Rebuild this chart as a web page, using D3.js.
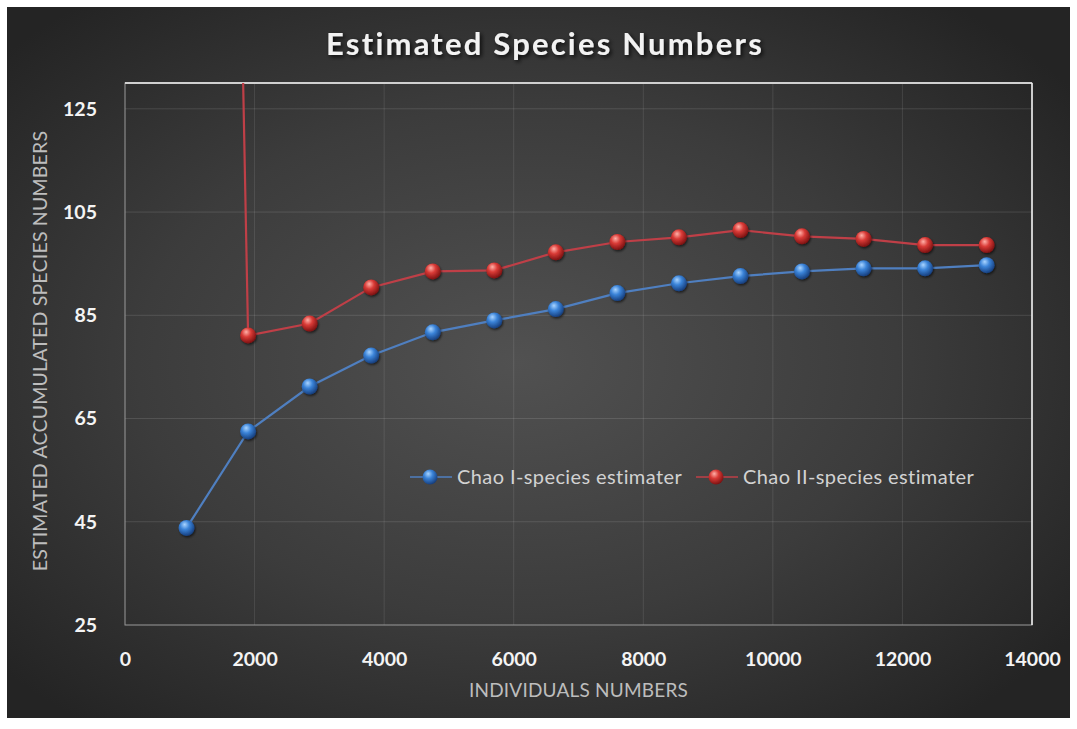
<!DOCTYPE html>
<html>
<head>
<meta charset="utf-8">
<script src="https://cdn.jsdelivr.net/npm/d3@7/dist/d3.min.js"></script>
<style>
  html, body { margin: 0; padding: 0; background: #ffffff; }
  svg { display: block; }
  text { font-family: Lato, "Open Sans", sans-serif; }
</style>
</head>
<body>
<div id="chart"></div>
<script>
// Sample sizes (individuals) at each accumulation step
const individuals = [950, 1900, 2850, 3800, 4750, 5700, 6650, 7600, 8550, 9500, 10450, 11400, 12350, 13300];
// Chao I estimator
const chao1 = [43.8, 62.5, 71.2, 77.2, 81.7, 84.0, 86.2, 89.3, 91.2, 92.6, 93.5, 94.1, 94.1, 94.7];
// Chao II estimator (first step runs far above the axis range)
const chao2 = [690, 81.1, 83.4, 90.4, 93.5, 93.7, 97.2, 99.2, 100.1, 101.5, 100.3, 99.8, 98.6, 98.6];
const seriesNames = ["Chao I-species estimater", "Chao II-species estimater"];
const xTicks = [0, 2000, 4000, 6000, 8000, 10000, 12000, 14000];
const yTicks = [25, 45, 65, 85, 105, 125];

const W = 1077, H = 729;
const svg = d3.select("#chart").append("svg").attr("width", W).attr("height", H);
const defs = svg.append("defs");

// dark radial backdrop
const bg = defs.append("radialGradient").attr("id", "bg")
  .attr("cx", "48%").attr("cy", "50%").attr("r", "65%");
bg.append("stop").attr("offset", "0%").attr("stop-color", "#515151");
bg.append("stop").attr("offset", "55%").attr("stop-color", "#3c3c3c");
bg.append("stop").attr("offset", "100%").attr("stop-color", "#242424");

// glossy sphere markers
function ball(id, light, mid, dark) {
  const g = defs.append("radialGradient").attr("id", id)
    .attr("cx", "40%").attr("cy", "35%").attr("r", "65%").attr("fx", "38%").attr("fy", "28%");
  g.append("stop").attr("offset", "0%").attr("stop-color", light);
  g.append("stop").attr("offset", "45%").attr("stop-color", mid);
  g.append("stop").attr("offset", "100%").attr("stop-color", dark);
}
ball("ballBlue", "#a9d4ff", "#3a83d8", "#173f7e");
ball("ballRed", "#ffb0a8", "#d93a36", "#7d1212");

const shadow = defs.append("filter").attr("id", "shadow")
  .attr("x", "-10%").attr("y", "-30%").attr("width", "120%").attr("height", "160%");
shadow.append("feDropShadow").attr("dx", 2).attr("dy", 2).attr("stdDeviation", 2)
  .attr("flood-color", "#000").attr("flood-opacity", 0.8);

const markShadow = defs.append("filter").attr("id", "mshadow")
  .attr("x", "-50%").attr("y", "-50%").attr("width", "200%").attr("height", "200%");
markShadow.append("feDropShadow").attr("dx", 1).attr("dy", 1.5).attr("stdDeviation", 1.2)
  .attr("flood-color", "#000").attr("flood-opacity", 0.6);

svg.append("rect").attr("x", 7).attr("y", 7).attr("width", 1063).attr("height", 711)
  .attr("fill", "url(#bg)");

const m = { left: 125, right: 1032, top: 83, bottom: 625 };
const x = d3.scaleLinear().domain([0, 14000]).range([m.left, m.right]);
const y = d3.scaleLinear().domain([25, 130]).range([m.bottom, m.top]);

defs.append("clipPath").attr("id", "plotClip").append("rect")
  .attr("x", m.left).attr("y", m.top).attr("width", m.right - m.left).attr("height", m.bottom - m.top);

// gridlines
const grid = svg.append("g");
grid.selectAll("line.v").data(xTicks.slice(1, -1)).join("line")
  .attr("x1", d => x(d)).attr("x2", d => x(d)).attr("y1", m.top).attr("y2", m.bottom)
  .attr("stroke", "#ffffff").attr("stroke-opacity", 0.1).attr("stroke-width", 1);
grid.selectAll("line.h").data(yTicks.slice(1)).join("line")
  .attr("x1", m.left).attr("x2", m.right).attr("y1", d => y(d)).attr("y2", d => y(d))
  .attr("stroke", "#ffffff").attr("stroke-opacity", 0.12).attr("stroke-width", 1);

// plot frame
svg.append("rect").attr("x", m.left).attr("y", m.top)
  .attr("width", m.right - m.left).attr("height", m.bottom - m.top)
  .attr("fill", "none").attr("stroke", "#9a9a9a").attr("stroke-width", 1);
svg.append("line").attr("x1", m.left).attr("x2", m.right).attr("y1", m.top).attr("y2", m.top)
  .attr("stroke", "#d0d0d0").attr("stroke-width", 2);
svg.append("line").attr("x1", m.right).attr("x2", m.right).attr("y1", m.top).attr("y2", m.bottom)
  .attr("stroke", "#f0f0f0").attr("stroke-width", 1.5);

// axes
const xAxis = svg.append("g").attr("transform", `translate(0,${m.bottom + 31})`)
  .call(d3.axisBottom(x).tickValues(xTicks).tickFormat(d3.format("d")).tickSize(0));
const yAxis = svg.append("g").attr("transform", `translate(${m.left - 25},0)`)
  .call(d3.axisLeft(y).tickValues(yTicks).tickSize(0));
[xAxis, yAxis].forEach(a => {
  a.select(".domain").remove();
  a.selectAll("text").attr("fill", "#f4f4f4").attr("font-size", 19.5).attr("font-weight", 700)
    .attr("font-family", "Lato, sans-serif");
});
xAxis.selectAll("text").attr("dy", "0.35em");
yAxis.selectAll("text").attr("dx", 0);

// series
const series = [
  { name: seriesNames[0], values: chao1, line: "#4f7fc0", fill: "url(#ballBlue)" },
  { name: seriesNames[1], values: chao2, line: "#bf3f47", fill: "url(#ballRed)" }
];
const line = d3.line().x((d, i) => x(individuals[i])).y(d => y(d));
const plot = svg.append("g").attr("clip-path", "url(#plotClip)");
series.forEach(s => {
  plot.append("path").datum(s.values).attr("d", line)
    .attr("fill", "none").attr("stroke", s.line).attr("stroke-width", 2.2);
});
series.forEach(s => {
  plot.selectAll(null).data(s.values).join("circle")
    .attr("cx", (d, i) => x(individuals[i])).attr("cy", d => y(d)).attr("r", 8)
    .attr("fill", s.fill).attr("filter", "url(#mshadow)");
});

// legend
const legendItems = [
  { s: series[0], x0: 410 },
  { s: series[1], x0: 696 }
];
legendItems.forEach(({ s, x0 }) => {
  const g = svg.append("g").attr("transform", `translate(${x0},477)`);
  g.append("line").attr("x1", 0).attr("x2", 42).attr("y1", 0).attr("y2", 0)
    .attr("stroke", s.line).attr("stroke-width", 1.5);
  g.append("circle").attr("cx", 20).attr("cy", 0).attr("r", 7.5).attr("fill", s.fill);
  g.append("text").attr("x", 47).attr("y", 0).attr("dy", "0.35em")
    .attr("fill", "#d2d2d2").attr("font-size", 20).attr("letter-spacing", 0.4).text(s.name);
});

// titles
svg.append("text").attr("x", 545).attr("y", 44).attr("dy", "0.35em")
  .attr("text-anchor", "middle").attr("fill", "#f2f2f2").attr("font-size", 31)
  .attr("font-weight", 700).attr("letter-spacing", 2.2).attr("filter", "url(#shadow)")
  .text("Estimated Species Numbers");

svg.append("text").attr("x", (m.left + m.right) / 2).attr("y", 690).attr("dy", "0.35em")
  .attr("text-anchor", "middle").attr("fill", "#bdbdbd").attr("font-size", 19)
  .attr("letter-spacing", 0.2)
  .text("INDIVIDUALS NUMBERS");

svg.append("text").attr("transform", `translate(40,${(m.top + m.bottom) / 2 - 3}) rotate(-90)`)
  .attr("text-anchor", "middle").attr("dy", "0.35em").attr("fill", "#bdbdbd").attr("font-size", 19.5)
  .attr("letter-spacing", 0.2)
  .text("ESTIMATED ACCUMULATED SPECIES NUMBERS");
</script>
</body>
</html>
